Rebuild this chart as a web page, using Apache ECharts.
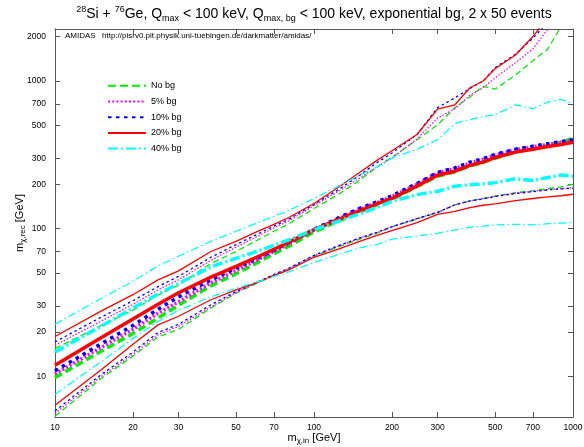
<!DOCTYPE html>
<html><head><meta charset="utf-8">
<script src="https://cdn.jsdelivr.net/npm/echarts@6/dist/echarts.min.js"></script>
<style>html,body{margin:0;padding:0;background:#fff}#c{width:584px;height:447px}</style>
</head><body><div id="c"></div>
<script>
// input WIMP masses (GeV)
const xs = [10, 15, 20, 25, 30, 40, 50, 60, 70, 80, 100, 125, 150, 175, 200, 250, 300, 350, 400, 450, 500, 600, 700, 800, 900, 1000];

// reconstructed masses: median (thick) and 1-sigma bounds (thin)
const noBgMid  = [9.8, 14.7, 19.5, 24.8, 30.3, 41, 49.5, 58.5, 67.5, 76, 95, 113, 130, 145, 158, 193, 226, 243, 265, 281, 300, 330, 347, 365, 385, 408];
const bg5Mid   = [10.4, 15.6, 20.8, 26.7, 32, 43, 52, 61, 70, 79, 98, 117, 135, 150, 165, 200, 238, 255, 278, 295, 314, 342, 358, 372, 385, 396];
const bg10Mid  = [10.9, 16.5, 22.1, 28.5, 34.5, 45, 54, 62.5, 71.5, 80.5, 99, 119, 137, 152, 167, 202, 240, 258, 282, 298, 318, 345, 362, 376, 388, 400];
const bg20Mid  = [11.9, 18.2, 24.4, 30.8, 36.8, 47, 55.5, 64, 72.5, 81, 98, 116, 132, 147, 160, 195, 230, 245, 268, 283, 303, 330, 345, 360, 372, 385];
const bg40Mid  = [14.6, 21.7, 29, 36, 42.5, 55, 63, 70, 77, 84, 98, 113, 126, 139, 153, 170, 179, 194, 198, 201, 205, 218, 212, 222, 231, 226];

const noBgUp   = [15.4, 22, 28, 35.5, 41.5, 58, 70, 83, 96, 108, 137, 172, 212, 262, 305, 400, 505, 660, 780, 920, 880, 1100, 1370, 1650, 2350, 3200];
const bg5Up    = [16.2, 23.5, 30.7, 38.5, 45, 61, 75, 88, 101, 113, 143, 180, 220, 262, 300, 405, 560, 650, 800, 900, 1050, 1330, 1650, 2250, 2900, null];
const bg10Up   = [17.1, 25, 32.5, 40.5, 47.5, 64, 78, 91, 104, 116, 146, 185, 230, 280, 325, 435, 660, 770, 890, 1000, 1230, 1520, 1950, 2500, null, null];
const bg20Up   = [18.6, 27.5, 35.7, 45, 51.8, 70, 82, 95, 107, 119, 148, 192, 240, 290, 337, 434, 645, 690, 900, 1000, 1210, 1500, 2000, 2700, null, null];
const bg40Up   = [22.5, 33.5, 44, 56, 65, 82, 96, 109, 121, 133, 160, 195, 230, 262, 300, 345, 400, 515, 548, 575, 590, 690, 650, 720, 750, 705];

const noBgLow  = [5.36, 9.6, 13.7, 18.5, 20.8, 29, 36.5, 42.5, 48, 53, 65, 75.5, 85, 93, 103, 116, 128, 145, 154, 160, 166, 175, 181, 187, 192, 200];
const bg5Low   = [5.6, 9.9, 14.1, 19.1, 21.8, 29.5, 37, 43, 48.5, 53.5, 65.5, 76.5, 86, 94, 103, 117, 129, 145, 154, 160, 166, 174, 179, 184, 187, 189];
const bg10Low  = [5.83, 10.2, 14.6, 19.8, 22.5, 30.5, 37.5, 43.2, 49, 54, 66, 77, 86.5, 94.5, 103, 117, 129, 145, 154, 159, 165, 173, 178, 183, 186, 188];
const bg20Low  = [6.36, 11, 16.5, 22.3, 25.5, 33, 38.5, 43, 48, 52.5, 64, 73, 82, 90, 97, 110, 125, 131, 139, 144, 147, 155, 160, 164, 167, 171];
const bg40Low  = [7.55, 12.5, 18, 23.5, 28, 34.5, 39.5, 43.5, 47.5, 51, 59, 67, 74, 78, 85, 89, 93, 98, 102, 104, 106, 107, 106, 108, 109, 110];

const legendNames = ['No bg', '5% bg', '10% bg', '20% bg', '40% bg'];
const xTicks = [10, 20, 30, 50, 70, 100, 200, 300, 500, 700, 1000];
const yTicks = [10, 20, 30, 50, 70, 100, 200, 300, 500, 700, 1000, 2000];

const FONT = 'Liberation Sans, Arial, sans-serif';
const styles = [
  {name: legendNames[0], color: '#00ee00', thick: [8, 4], thin: [6, 3.5], mid: noBgMid, up: noBgUp, low: noBgLow},
  {name: legendNames[1], color: '#ff00ff', thick: [2, 2.2], thin: [1.5, 1.8], mid: bg5Mid, up: bg5Up, low: bg5Low},
  {name: legendNames[2], color: '#0000ff', thick: [3.5, 4.5], thin: [2.5, 3], mid: bg10Mid, up: bg10Up, low: bg10Low},
  {name: legendNames[3], color: '#ff0000', thick: 'solid', thin: 'solid', mid: bg20Mid, up: bg20Up, low: bg20Low},
  {name: legendNames[4], color: '#00ffff', thick: [10, 3, 2, 3], thin: [8, 3, 1.5, 3], mid: bg40Mid, up: bg40Up, low: bg40Low}
];

function pairs(ys) { return xs.map((x, i) => [x, ys[i]]).filter(p => p[1] != null); }

const series = [];
styles.forEach((s, k) => {
  const base = {type: 'line', symbol: 'none', showSymbol: false, animation: false, clip: true, silent: true};
  series.push(Object.assign({}, base, {name: s.name + ' up', data: pairs(s.up), z: 2 + k,
    lineStyle: {color: s.color, width: 1.3, type: s.thin, cap: 'butt'}, itemStyle: {color: s.color}}));
  series.push(Object.assign({}, base, {name: s.name + ' low', data: pairs(s.low), z: 2 + k,
    lineStyle: {color: s.color, width: 1.3, type: s.thin, cap: 'butt'}, itemStyle: {color: s.color}}));
  series.push(Object.assign({}, base, {name: s.name, data: pairs(s.mid), z: 2 + k,
    lineStyle: {color: s.color, width: 3.5, type: s.thick, cap: 'butt'}, itemStyle: {color: s.color}}));
});

const axisCommon = {
  type: 'log', logBase: 10,
  axisLine: {show: true, onZero: false, lineStyle: {color: '#555', width: 1}},
  splitLine: {show: false}, minorTick: {show: false}, minorSplitLine: {show: false},
  nameMoveOverlap: false
};
const nameRich = {i: {fontSize: 11, fontFamily: FONT, color: '#000', lineHeight: 14},
  s: {fontSize: 8, fontFamily: FONT, color: '#000', verticalAlign: 'bottom', lineHeight: 8}};
function xAx(pos, labels) {
  return Object.assign({}, axisCommon, {
    position: pos, min: 10, max: 1000,
    axisTick: {show: true, inside: true, length: 5, customValues: xTicks, lineStyle: {color: '#555'}},
    axisLabel: {show: labels, customValues: xTicks, fontSize: 8.5, color: '#000', fontFamily: FONT, margin: 6,
      formatter: v => String(Math.round(v))},
    name: labels ? '{i|m}{s|χ,in}{i| [GeV]}' : '', nameLocation: 'middle', nameGap: 14,
    nameTextStyle: {rich: nameRich}
  });
}
function yAx(pos, labels) {
  return Object.assign({}, axisCommon, {
    position: pos, min: 5.3, max: 2250,
    axisTick: {show: true, inside: true, length: 5, customValues: yTicks, lineStyle: {color: '#555'}},
    axisLabel: {show: labels, customValues: yTicks, fontSize: 8.5, color: '#000', fontFamily: FONT, margin: 9,
      formatter: v => String(Math.round(v))},
    name: labels ? '{i|m}{s|χ,rec}{i| [GeV]}' : '', nameLocation: 'middle', nameGap: 28, nameRotate: 90,
    nameTextStyle: {rich: nameRich}
  });
}

const chart = echarts.init(document.getElementById('c'), null, {renderer: 'canvas'});
chart.setOption({
  backgroundColor: '#fff',
  animation: false,
  grid: {left: 55, right: 11, top: 29, bottom: 30, containLabel: false, outerBoundsMode: 'none'},
  xAxis: [xAx('bottom', true), xAx('top', false)],
  yAxis: [yAx('left', true), yAx('right', false)],
  legend: {
    data: legendNames, orient: 'vertical', left: 107, top: 81, itemWidth: 38, itemHeight: 12, itemGap: 6.1,
    padding: 0, itemStyle: {opacity: 0}, textStyle: {fontSize: 9, fontFamily: FONT, color: '#000'}, selectedMode: false
  },
  graphic: [
    {type: 'text', x: 314, y: 14, silent: true, style: {
      text: '{s|28}{n|Si + }{s|76}{n|Ge, Q}{b|max}{n| < 100 keV, Q}{b|max, bg}{n| < 100 keV, exponential bg, 2 x 50 events}',
      align: 'center', verticalAlign: 'middle',
      rich: {
        n: {fontSize: 14, fontFamily: FONT, fill: '#000', lineHeight: 18},
        s: {fontSize: 9, fontFamily: FONT, fill: '#000', verticalAlign: 'top', lineHeight: 9},
        b: {fontSize: 9, fontFamily: FONT, fill: '#000', verticalAlign: 'bottom', lineHeight: 9}
      }}},
    {type: 'text', x: 65, y: 36, silent: true, style: {text: 'AMIDAS', font: '8px ' + FONT, fill: '#000', verticalAlign: 'middle'}},
    {type: 'text', x: 102, y: 36, silent: true, style: {text: 'http://pisrv0.pit.physik.uni-tuebingen.de/darkmatter/amidas/', font: '8px ' + FONT, fill: '#000', verticalAlign: 'middle'}}
  ],
  series: series
});
</script></body></html>
